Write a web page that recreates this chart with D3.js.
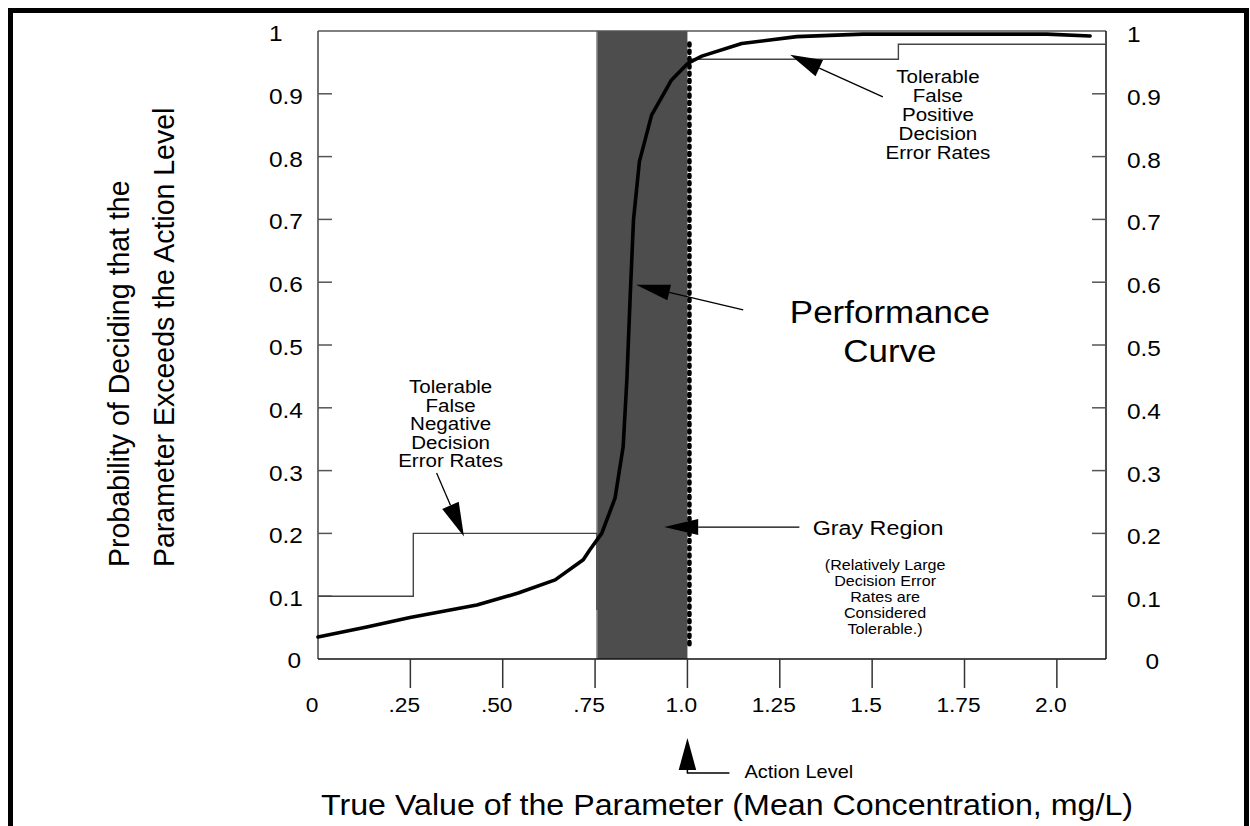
<!DOCTYPE html>
<html><head><meta charset="utf-8">
<script src="https://cdn.jsdelivr.net/npm/d3@7"></script>
<style>
body{margin:0;background:#fff}
svg{display:block}
text{font-family:"Liberation Sans",Arial,Helvetica,sans-serif;fill:#000}
</style>
</head><body>
<svg id="chart" width="1250" height="826"></svg>
<script>
// ---------------- data ----------------
const xTickValues = [0, 0.25, 0.5, 0.75, 1.0, 1.25, 1.5, 1.75, 2.0];
const xTickLabels = ["0", ".25", ".50", ".75", "1.0", "1.25", "1.5", "1.75", "2.0"];
const yTickValues = [0, 0.1, 0.2, 0.3, 0.4, 0.5, 0.6, 0.7, 0.8, 0.9, 1];
const yTickLabels = ["0", "0.1", "0.2", "0.3", "0.4", "0.5", "0.6", "0.7", "0.8", "0.9", "1"];

// performance curve
const curveX = [0, 0.132, 0.249, 0.430, 0.542, 0.642, 0.718, 0.736, 0.768, 0.804, 0.826, 0.836, 0.845, 0.854, 0.870, 0.903, 0.957, 1.002, 1.039, 1.147, 1.296, 1.475, 1.973, 2.09];
const curveY = [0.035, 0.051, 0.066, 0.086, 0.105, 0.126, 0.158, 0.174, 0.200, 0.256, 0.338, 0.444, 0.577, 0.699, 0.792, 0.866, 0.922, 0.949, 0.960, 0.980, 0.991, 0.995, 0.995, 0.992];

// tolerable false negative decision error rates (step)
const fnStepX = [0, 0.258, 0.258, 0.755, 0.755];
const fnStepY = [0.1, 0.1, 0.2, 0.2, 0.078];
// tolerable false positive decision error rates (step)
const fpStepX = [1.0, 1.571, 1.571, 2.133];
const fpStepY = [0.955, 0.955, 0.979, 0.979];

const grayRegion = [0.755, 1.0];
const actionLevel = 1.0;
const actionDotsY = [0.018, 0.98];
const xDomain = [0, 2.133];
const yDomain = [0, 1];

// annotations (data coordinates)
const fpLabel = ["Tolerable", "False", "Positive", "Decision", "Error Rates"];
const fpLabelPos = [1.678, 0.917];
const fpArrow = [[1.529, 0.895], [1.278, 0.962]];
const fnLabel = ["Tolerable", "False", "Negative", "Decision", "Error Rates"];
const fnLabelPos = [0.359, 0.4228];
const fnArrow = [[0.321, 0.296], [0.395, 0.195]];
const perfLabel = ["Performance", "Curve"];
const perfLabelPos = [1.548, 0.535];
const perfArrow = [[1.151, 0.556], [0.861, 0.596]];
const grayLabel = "Gray Region";
const grayLabelPos = [1.516, 0.1975];
const grayArrow = [[1.303, 0.21], [0.937, 0.21]];
const grayNote = ["(Relatively Large", "Decision Error", "Rates are", "Considered", "Tolerable.)"];
const grayNotePos = [1.535, 0.1417];
const actionLabel = "Action Level";
const xTitle = "True Value of the Parameter (Mean Concentration, mg/L)";
const yTitle = ["Probability of Deciding that the", "Parameter Exceeds the Action Level"];

// ---------------- layout ----------------
const SX = 1.11; // horizontal stretch of the original lettering
const L = 318, R = 1106, T = 31, B = 659;
const svg = d3.select("#chart");
const x = d3.scaleLinear().domain(xDomain).range([L, R]);
const y = d3.scaleLinear().domain(yDomain).range([B, T]);

function stext(sel, px, py, s, size, anchor, sx) {
  return sel.append("text")
    .attr("transform", `translate(${px},${py}) scale(${sx === undefined ? SX : sx},1)`)
    .attr("text-anchor", anchor)
    .style("font-size", size + "px")
    .text(s);
}
function arrow(sel, tail, tip, headLen, halfW, sw) {
  drawArrowPx(sel, x(tail[0]), y(tail[1]), x(tip[0]), y(tip[1]), headLen, halfW, sw);
}
function drawArrowPx(sel, x1, y1, x2, y2, headLen, halfW, sw) {
  const dx = x1 - x2, dy = y1 - y2, len = Math.hypot(dx, dy);
  const ux = dx / len, uy = dy / len, nx = -uy, ny = ux;
  const bx = x2 + ux * headLen, by = y2 + uy * headLen;
  sel.append("line").attr("x1", x1).attr("y1", y1).attr("x2", bx).attr("y2", by)
    .attr("stroke", "#000").attr("stroke-width", sw || 1.3);
  sel.append("path")
    .attr("d", `M${x2},${y2}L${bx + nx * halfW},${by + ny * halfW}L${bx - nx * halfW},${by - ny * halfW}Z`)
    .attr("fill", "#000");
}

// outer border
svg.append("rect").attr("x", 10.5).attr("y", 10.5).attr("width", 1236).attr("height", 900)
  .attr("fill", "none").attr("stroke", "#000").attr("stroke-width", 5);

// gray region
svg.append("rect")
  .attr("x", x(grayRegion[0])).attr("y", y(1))
  .attr("width", x(grayRegion[1]) - x(grayRegion[0])).attr("height", y(0) - y(1))
  .attr("fill", "#4d4d4d");
svg.append("line").attr("x1", x(grayRegion[0])).attr("x2", x(grayRegion[0]))
  .attr("y1", y(1)).attr("y2", y(0)).attr("stroke", "#8c8c8c").attr("stroke-width", 1.5);

// frame
svg.append("line").attr("x1", L).attr("x2", R).attr("y1", T).attr("y2", T).attr("stroke", "#555").attr("stroke-width", 1.5);
svg.append("line").attr("x1", L).attr("x2", L).attr("y1", T).attr("y2", B).attr("stroke", "#444").attr("stroke-width", 1.5);
svg.append("line").attr("x1", R).attr("x2", R).attr("y1", T).attr("y2", B).attr("stroke", "#111").attr("stroke-width", 1.5);
svg.append("line").attr("x1", L).attr("x2", R).attr("y1", B).attr("y2", B).attr("stroke", "#111").attr("stroke-width", 1.5);

// y ticks (both sides)
const yInner = yTickValues.filter(v => v > 0 && v < 1);
svg.selectAll(".ytl").data(yInner).enter().append("line")
  .attr("x1", L).attr("x2", L + 14).attr("y1", d => y(d)).attr("y2", d => y(d))
  .attr("stroke", "#555").attr("stroke-width", 1.5);
svg.selectAll(".ytr").data(yInner).enter().append("line")
  .attr("x1", R - 14).attr("x2", R).attr("y1", d => y(d)).attr("y2", d => y(d))
  .attr("stroke", "#555").attr("stroke-width", 1.5);
// y tick labels
const gyl = svg.append("g"), gyr = svg.append("g");
yTickValues.forEach((v, i) => {
  const lab = yTickLabels[i];
  if (v === 0) {
    stext(gyl, 301, y(v) + 9, lab, 22, "end");
    stext(gyr, 1159, y(v) + 10, lab, 22, "end");
  } else {
    stext(gyl, 269, y(v) + 10, lab, 22, "start");
    stext(gyr, 1127, y(v) + 11, lab, 22, "start");
  }
});

// x ticks (hanging below axis)
svg.selectAll(".xt").data(xTickValues.filter(v => v > 0)).enter().append("line")
  .attr("x1", d => x(d)).attr("x2", d => x(d)).attr("y1", B).attr("y2", B + 29)
  .attr("stroke", "#333").attr("stroke-width", 1.5);
const gxl = svg.append("g");
xTickValues.forEach((v, i) => stext(gxl, x(v) - 6, B + 53, xTickLabels[i], 20.5, "middle"));

// step lines
const stepLine = d3.line().x(d => x(d[0])).y(d => y(d[1]));
svg.append("path").datum(d3.zip(fnStepX, fnStepY)).attr("d", stepLine)
  .attr("fill", "none").attr("stroke", "#444").attr("stroke-width", 1.4);
svg.append("path").datum(d3.zip(fpStepX, fpStepY)).attr("d", stepLine)
  .attr("fill", "none").attr("stroke", "#444").attr("stroke-width", 1.4);

// action level dotted line
svg.append("line")
  .attr("x1", x(actionLevel) + 2).attr("x2", x(actionLevel) + 2)
  .attr("y1", y(actionDotsY[1])).attr("y2", y(actionDotsY[0]))
  .attr("stroke", "#000").attr("stroke-width", 4.6)
  .attr("stroke-linecap", "round").attr("stroke-dasharray", "2,5.3");

// performance curve
svg.append("path").datum(d3.zip(curveX, curveY))
  .attr("d", d3.line().x(d => x(d[0])).y(d => y(d[1])))
  .attr("fill", "none").attr("stroke", "#000").attr("stroke-width", 3.6)
  .attr("stroke-linejoin", "round").attr("stroke-linecap", "round");

// annotations
const ga = svg.append("g");
fpLabel.forEach((s, i) => stext(ga, x(fpLabelPos[0]), y(fpLabelPos[1]) + i * 19, s, 18.5, "middle"));
arrow(ga, fpArrow[0], fpArrow[1], 32, 9);
fnLabel.forEach((s, i) => stext(ga, x(fnLabelPos[0]), y(fnLabelPos[1]) + i * 18.5, s, 18.5, "middle"));
arrow(ga, fnArrow[0], fnArrow[1], 34, 9);
perfLabel.forEach((s, i) => stext(ga, x(perfLabelPos[0]), y(perfLabelPos[1]) + i * 39, s, 31.5, "middle"));
arrow(ga, perfArrow[0], perfArrow[1], 34, 8);
stext(ga, x(grayLabelPos[0]), y(grayLabelPos[1]), grayLabel, 21, "middle");
arrow(ga, grayArrow[0], grayArrow[1], 34, 8);
grayNote.forEach((s, i) => stext(ga, x(grayNotePos[0]), y(grayNotePos[1]) + i * 16, s, 14.5, "middle"));

// action level marker below axis
const ax = x(actionLevel);
drawArrowPx(ga, ax, B + 114, ax, B + 79, 32, 8.75, 1.3);
ga.append("path").attr("d", `M${ax},${B + 110}V${B + 114}H${ax + 42}`)
  .attr("fill", "none").attr("stroke", "#000").attr("stroke-width", 1.3);
stext(ga, ax + 57, B + 119, actionLabel, 18, "start");

// axis titles
stext(svg, 727, 815, xTitle, 29, "middle");
yTitle.forEach((s, i) => {
  svg.append("text")
    .attr("transform", `translate(${129 + i * 45},567) scale(1.05,1) rotate(-90)`)
    .attr("text-anchor", "start").style("font-size", "28.5px").text(s);
});
</script>
</body></html>
